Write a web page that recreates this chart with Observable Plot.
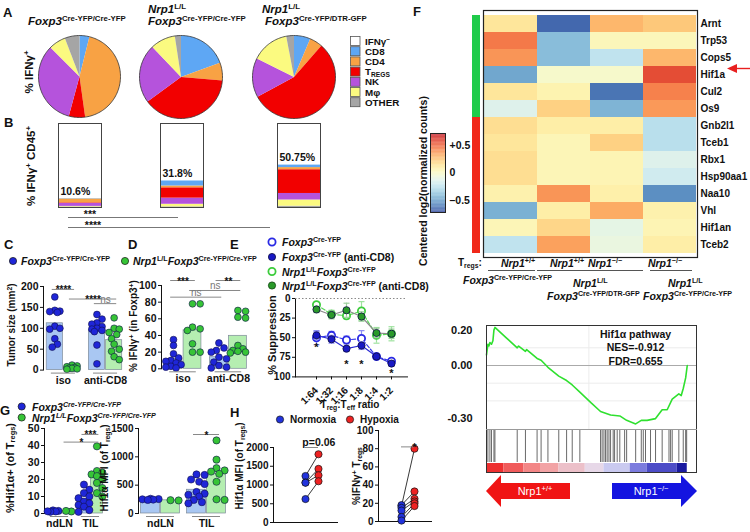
<!DOCTYPE html>
<html><head><meta charset="utf-8">
<script src="https://cdn.jsdelivr.net/npm/d3@7"></script>
<script src="https://cdn.jsdelivr.net/npm/@observablehq/plot@0.6"></script>
<style>
html,body{margin:0;padding:0;background:#fff}
#fig{position:relative;width:750px;height:532px;overflow:hidden;font-family:"Liberation Sans",Arial,sans-serif;color:#111}
.t{position:absolute;white-space:nowrap;line-height:1;font-weight:bold}
.t sup{font-size:0.68em;vertical-align:0.5em;line-height:0}
.t sub{font-size:0.68em;vertical-align:-0.25em;line-height:0}
</style></head><body><div id="fig"></div>
<script>
// ================= DATA =================
// Panel A/B: composition of IFNγ+ cells (order: CD8, CD4, TREGS, NK, Mφ, OTHER)
const cellTypes = ["IFNγ⁻", "CD8", "CD4", "TREGS", "NK", "Mφ", "OTHER"];
const cellColors = ["#ffffff", "#5ea7f4", "#f8a244", "#f20000", "#b553dc", "#fbfa80", "#a5a5a5"];
const pieFoxp3 = [3.9, 43.9, 6.4, 33.3, 6.7, 5.8];
const pieNrp1 = [19.4, 6.9, 38.6, 23.0, 9.7, 2.4];
const pieNrp1Dtr = [6.4, 5.0, 55.7, 15.3, 14.6, 3.0];
const ifngPositive = [10.6, 31.8, 50.75];

// Panel C: tumor size (mm2)
const tumorIsoWT = [175, 143, 141, 140, 138, 105, 100, 98, 75, 62, 55];
const tumorIsoKO = [12, 10, 8, 6, 5, 4, 3, 2];
const tumorCd8WT = [133, 122, 113, 110, 104, 100, 98, 95, 92, 60, 15];
const tumorCd8KO = [125, 100, 98, 90, 85, 75, 62, 50, 45, 32, 25];
const tumorSig = [
  {from: "iso|WT", to: "iso|KO", y: 193, label: "****"},
  {from: "iso|KO", to: "anti-CD8|KO", y: 170, label: "****"},
  {from: "anti-CD8|WT", to: "anti-CD8|KO", y: 159, label: "ns"}
];
// Panel D: % IFNγ+ in Foxp3+
const ifnIsoWT = [35, 28, 18, 13, 10, 9, 7, 5, 3, 2, 1];
const ifnIsoKO = [78, 78, 50, 48, 46, 30, 20, 20];
const ifnCd8WT = [31, 25, 22, 20, 14, 12, 8, 4, 2, 1];
const ifnCd8KO = [70, 69, 62, 61, 28, 24, 22, 21, 20, 19];
const ifnSig = [
  {from: "iso|WT", to: "iso|KO", y: 106, label: "***"},
  {from: "anti-CD8|WT", to: "anti-CD8|KO", y: 106, label: "**"},
  {from: "iso|KO", to: "anti-CD8|KO", y: 94, label: "ns"},
  {from: "iso|WT", to: "anti-CD8|WT", y: 86, label: "ns"}
];
// Panel E: % suppression
const ratios = ["1:64", "1:32", "1:16", "1:8", "1:4", "1:2"];
const supFoxp3 = [50, 47, 53, 51, 74, 80];      const errFoxp3 = [9, 5, 5, 10, 3, 2];
const supFoxp3Cd8 = [47, 52, 64, 60, 74, 83];   const errFoxp3Cd8 = [5, 5, 3, 5, 3, 3];
const supNrp1 = [8, 20, 22, 16, 47, 45];        const errNrp1 = [3, 5, 4, 12, 10, 9];
const supNrp1Cd8 = [14, 21, 15, 23, 44, 45];    const errNrp1Cd8 = [4, 5, 9, 6, 6, 6];
const starRatios = ["1:64", "1:16", "1:8", "1:2"];
const starLevels = [62, 84, 84, 95];
// Panel F: heatmap (centered log2 normalized counts)
const genes = ["Arnt", "Trp53", "Cops5", "Hif1a", "Cul2", "Os9", "Gnb2l1", "Tceb1", "Rbx1", "Hsp90aa1", "Naa10", "Vhl", "Hif1an", "Tceb2"];
const geneGroup = ["g", "g", "g", "g", "g", "g", "r", "r", "r", "r", "r", "r", "r", "r"];
const heatCols = ["WT Cre/Cre", "WT DTR", "KO DTR", "KO Cre/Cre"];
const heatWtCre = [0.12, 0.44, 0.37, -0.48, 0.12, -0.15, 0.15, 0.12, 0.15, 0.15, 0.06, -0.45, 0.03, -0.25];
const heatWtDtr = [-0.655, -0.41, -0.41, -0.03, 0.05, 0.2, 0.08, 0.03, 0.03, 0.03, 0.37, 0.08, 0.18, 0.34];
const heatKoDtr = [0.28, 0.02, -0.25, -0.03, -0.62, -0.44, 0.08, 0.2, 0.04, 0.04, 0.07, 0.31, -0.12, -0.1];
const heatKoCre = [0.23, 0.02, 0.28, 0.55, 0.42, 0.36, -0.27, -0.27, -0.15, -0.2, -0.55, 0.06, 0.04, 0.08];
const colorTicks = [-0.5, 0, 0.5];
// GSEA (rank out of 1000)
const esRank = [0, 7, 12, 17, 25, 32, 37, 42, 100, 153, 160, 194, 200, 252, 272, 306, 360, 399, 427, 465, 520, 568, 618, 664, 698, 743, 771, 800, 842, 875, 900, 925, 958, 970, 980, 992, 1000];
const esValue = [0.06, 0.12, 0.11, 0.13, 0.12, 0.14, 0.2, 0.215, 0.155, 0.10, 0.11, 0.08, 0.09, 0.04, 0.03, -0.01, -0.06, -0.085, -0.11, -0.15, -0.21, -0.26, -0.28, -0.285, -0.31, -0.33, -0.31, -0.31, -0.30, -0.25, -0.25, -0.19, -0.16, -0.17, -0.13, -0.07, 0.0];
const hitRanks = [7, 17, 25, 37, 42, 153, 194, 252, 272, 306, 360, 399, 427, 465, 568, 576, 585, 593, 601, 610, 618, 631, 638, 651, 664, 688, 698, 743, 771, 781, 792, 817, 842, 875, 909, 917, 925, 958, 980, 992, 997];
const rankSegStart = [0, 87, 186, 269, 361, 492, 585, 716, 800, 950];
const rankSegMetric = [1, 0.8, 0.6, 0.45, 0.25, 0.08, -0.1, -0.4, -0.65, -1];
const esTicks = [0.2, 0, -0.3];
// Panel G
const hifPctNdlnWT = [1.8, 1.5, 1.2, 1.0, 1.3];
const hifPctNdlnKO = [1.2, 1.5];
const hifPctTilWT = [17, 14, 12, 10, 9, 7, 6, 5, 4, 2, 1];
const hifPctTilKO = [39.5, 25, 24, 23, 22, 20, 18, 15, 12, 10];
const hifPctSig = [
  {from: "TIL|WT", to: "TIL|KO", y: 46.5, label: "***"},
  {from: "ndLN|KO", to: "TIL|KO", y: 42, label: "*"}
];
const hifMfiNdlnWT = [260, 255, 250, 245, 240];
const hifMfiNdlnKO = [235, 230];
const hifMfiTilWT = [690, 680, 600, 560, 520, 380, 350, 330, 300, 240, 200, 180];
const hifMfiTilKO = [1290, 950, 800, 760, 740, 700, 560, 250, 240];
const hifMfiSig = [{from: "TIL|WT", to: "TIL|KO", y: 1394, label: "*"}];
// Panel H
const mfiNormoxia = [1240, 1065, 1060, 625];
const mfiHypoxia = [1820, 1430, 1260, 1100];
const ifnNormoxia = [17, 18, 15, 12, 5, 1];
const ifnHypoxia = [80, 33, 25, 22, 20, 17];

// ================= HELPERS =================
const fig = document.getElementById("fig");
const FONT = '"Liberation Sans", Arial, sans-serif';
const BLUE = "#1f26d8", GREEN = "#36c436";
function mount(node, left, top) {
  node.style.position = "absolute"; node.style.left = left + "px"; node.style.top = top + "px";
  fig.appendChild(node); return node;
}
function plot(opts, left, top, fs = 10) {
  const svg = Plot.plot({...opts, style: {fontFamily: FONT, fontWeight: "bold", fontSize: fs + "px", color: "#111", background: "transparent", overflow: "visible"}});
  return mount(svg, left, top);
}
function txt(html, x, y, o = {}) {
  const d = document.createElement("div"); d.className = "t"; d.innerHTML = html;
  const a = o.anchor || "start";
  d.style.left = x + "px"; d.style.top = y + "px"; d.style.fontSize = (o.size || 10) + "px";
  if (o.color) d.style.color = o.color;
  if (o.weight) d.style.fontWeight = o.weight;
  const tx = o.rotate ? "-50%" : a === "start" ? "0" : a === "middle" ? "-50%" : "-100%";
  d.style.transform = `translate(${tx},-50%)` + (o.rotate ? ` rotate(${o.rotate}deg)` : "");
  fig.appendChild(d);
}
// simple deterministic beeswarm: horizontal pixel offsets for dots in one bar
function swarm(values, pxPerUnit, r, maxOff) {
  const placed = [], out = [];
  const order = d3.range(values.length).sort((a, b) => values[b] - values[a]);
  const minD = r * 1.7, step = r * 0.75;
  for (const i of order) {
    const y = values[i] * pxPerUnit; let best = 0, bestD = -1;
    for (let k = 0; ; k++) {
      const x = k === 0 ? 0 : (k % 2 ? 1 : -1) * Math.ceil(k / 2) * step;
      if (Math.abs(x) > maxOff) break;
      const d = placed.length ? d3.min(placed, p => Math.hypot(p.x - x, p.y - y)) : Infinity;
      if (d >= minD) { best = x; bestD = d; break; }
      if (d > bestD) { bestD = d; best = x; }
    }
    placed.push({x: best, y}); out[i] = best;
  }
  return out;
}

// ---------- Panel A: pies ----------
const circle = {type: "Polygon", coordinates: [d3.range(0, 361, 2).map(a => [Math.sin(a * Math.PI / 180), -Math.cos(a * Math.PI / 180)])]};
function pie(fr, cx, cy, r) {
  const tot = d3.sum(fr); let a = 0;
  const feats = fr.map((v, i) => {
    const a0 = a; a += v / tot * 2 * Math.PI;
    const n = Math.max(2, Math.ceil((a - a0) / 0.04)); const ring = [[0, 0]];
    for (let k = 0; k <= n; k++) { const t = a0 + (a - a0) * k / n; ring.push([Math.sin(t), -Math.cos(t)]); }
    ring.push([0, 0]);
    return {type: "Feature", properties: {color: cellColors[i + 1]}, geometry: {type: "Polygon", coordinates: [ring]}};
  });
  plot({width: 2 * r + 4, height: 2 * r + 4, margin: 2, color: {type: "identity"},
    projection: {type: "identity", domain: circle, inset: 0},
    marks: [Plot.geo(feats, {fill: d => d.properties.color}), Plot.geo([circle], {stroke: "#333", strokeWidth: 0.8, fill: "none"})]
  }, cx - r - 2, cy - r - 2);
}
pie(pieFoxp3, 79, 76, 41);
pie(pieNrp1, 180, 76, 41.5);
pie(pieNrp1Dtr, 293, 76, 41.5);

// ---------- Panel B: stacked bars ----------
function stackBar(fr, pct, boxL) {
  const tot = d3.sum(fr); const rows = [];
  for (let i = fr.length - 1; i >= 0; i--) rows.push({v: pct * fr[i] / tot, color: cellColors[i + 1]});
  rows.push({v: 100 - pct, color: cellColors[0]});
  plot({width: 45, height: 88, marginLeft: 1, marginRight: 1, marginTop: 3, marginBottom: 1,
    x: {domain: ["c"], padding: 0, axis: null}, y: {domain: [0, 100], axis: null}, color: {type: "identity"},
    marks: [
      Plot.barY(rows, {x: () => "c", y: "v", fill: "color"}),
      Plot.frame({stroke: "#444"}),
      Plot.text([pct], {y: d => d, text: d => d + "%", frameAnchor: "left", textAnchor: "start", dx: 2, dy: -7, fontSize: 10.5})
    ]}, boxL - 1, 120);
}
stackBar(pieFoxp3, ifngPositive[0], 58);
stackBar(pieNrp1, ifngPositive[1], 160);
stackBar(pieNrp1Dtr, ifngPositive[2], 277);

// ---------- bar + dot panels (C, D, G) ----------
function barDot(c) {
  const mL = 32, mR = 6, mT = 24, mB = 26;
  const fw = c.rightX - c.axisX, fh = c.yBot - c.yTop;
  const genos = ["WT", "KO"];
  const pos = (g, k) => c.groups.indexOf(g) * c.stride + genos.indexOf(k);
  const bars = c.bars.map(b => ({...b, x: pos(b.group, b.geno), mean: d3.mean(b.values)}));
  const pxY = fh / (c.ydom[1] - c.ydom[0]);
  const pts = bars.flatMap(b => { const offs = swarm(b.values, pxY, c.r, c.bw * 0.42); return b.values.map((v, i) => ({geno: b.geno, v, x: b.x + 0.5 + offs[i] / c.bw})); });
  const key = s => { const [g, k] = s.split("|"); return pos(g, k) + 0.5; };
  const sig = c.sig.map(s => ({...s, x1: key(s.from) - 0.15, x2: key(s.to) + 0.15}));
  const groupsD = c.groups.map((g, i) => ({g, x: i * c.stride + 1}));
  const fill = {WT: "#a9c7f2", KO: "#b5eeb1"}, dot = {WT: BLUE, KO: GREEN};
  plot({
    width: mL + fw + mR, height: mT + fh + mB, marginLeft: mL, marginRight: mR, marginTop: mT, marginBottom: mB,
    x: {domain: [(c.axisX - c.bx0) / c.bw, (c.rightX - c.bx0) / c.bw], axis: null},
    y: {domain: c.ydom, ticks: c.ticks, tickSize: 3, tickPadding: 2, line: true, label: null, tickFormat: d => String(d)},
    color: {type: "identity"},
    marks: [
      Plot.rect(bars, {x1: d => d.x + 0.03, x2: d => d.x + 0.97, y1: () => c.ydom[0], y2: "mean", fill: d => fill[d.geno], stroke: "#7d8a99", strokeWidth: 0.7}),
      Plot.dot(pts, {x: "x", y: "v", r: c.r, fill: d => dot[d.geno], stroke: "#10104a", strokeWidth: 0.6}),
      Plot.ruleY(sig, {y: "y", x1: "x1", x2: "x2", stroke: "#888"}),
      Plot.text(sig.filter(s => s.label !== "ns"), {x: d => (d.x1 + d.x2) / 2, y: "y", text: "label", lineAnchor: "bottom", dy: 4, fontSize: 10}),
      Plot.text(sig.filter(s => s.label === "ns"), {x: d => (d.x1 + d.x2) / 2, y: "y", text: "label", lineAnchor: "bottom", dy: -1, fill: "#777", fontWeight: "normal", fontSize: 10}),
      Plot.ruleY(groupsD, {y: () => c.ydom[0], x1: d => d.x - 0.7, x2: d => d.x + 0.7, dy: 3, stroke: "#888"}),
      Plot.text(groupsD, {x: "x", y: () => c.ydom[0], text: "g", lineAnchor: "top", dy: 6, fontSize: c.fs})
    ]}, c.axisX - mL, c.yTop - mT, c.tfs || c.fs);
}
barDot({axisX: 43, rightX: 123, yBot: 369.3, yTop: 285.7, ydom: [0, 200], ticks: [0, 50, 100, 150, 200],
  bx0: 45.7, bw: 17.2, stride: 2.45, groups: ["iso", "anti-CD8"], r: 3.4, fs: 10.5,
  bars: [{group: "iso", geno: "WT", values: tumorIsoWT}, {group: "iso", geno: "KO", values: tumorIsoKO},
         {group: "anti-CD8", geno: "WT", values: tumorCd8WT}, {group: "anti-CD8", geno: "KO", values: tumorCd8KO}],
  sig: tumorSig});
barDot({axisX: 161, rightX: 248, yBot: 368.3, yTop: 285, ydom: [0, 100], ticks: [0, 20, 40, 60, 80, 100],
  bx0: 163.5, bw: 19, stride: 2.39, groups: ["iso", "anti-CD8"], r: 3.4, fs: 10.5,
  bars: [{group: "iso", geno: "WT", values: ifnIsoWT}, {group: "iso", geno: "KO", values: ifnIsoKO},
         {group: "anti-CD8", geno: "WT", values: ifnCd8WT}, {group: "anti-CD8", geno: "KO", values: ifnCd8KO}],
  sig: ifnSig});
barDot({axisX: 44, rightX: 106, yBot: 513.3, yTop: 428.3, ydom: [0, 50], ticks: [0, 10, 20, 30, 40, 50],
  bx0: 46, bw: 13, stride: 2.38, groups: ["ndLN", "TIL"], r: 3.6, fs: 10.5,
  bars: [{group: "ndLN", geno: "WT", values: hifPctNdlnWT}, {group: "ndLN", geno: "KO", values: hifPctNdlnKO},
         {group: "TIL", geno: "WT", values: hifPctTilWT}, {group: "TIL", geno: "KO", values: hifPctTilKO}],
  sig: hifPctSig});
barDot({axisX: 138, rightX: 230, yBot: 513.3, yTop: 428.3, ydom: [0, 1500], ticks: [0, 500, 1000, 1500],
  bx0: 140, bw: 20, stride: 2.3, groups: ["ndLN", "TIL"], r: 3.6, fs: 10.5, tfs: 10,
  bars: [{group: "ndLN", geno: "WT", values: hifMfiNdlnWT}, {group: "ndLN", geno: "KO", values: hifMfiNdlnKO},
         {group: "TIL", geno: "WT", values: hifMfiTilWT}, {group: "TIL", geno: "KO", values: hifMfiTilKO}],
  sig: hifMfiSig});

// ---------- Panel E ----------
(function () {
  const L = 265, T = 290.3, mL = 30, mT = 8, mB = 26, mR = 10;
  const capSym = {draw(ctx, size) { const w = Math.sqrt(size) / 2; ctx.moveTo(-w, 0); ctx.lineTo(w, 0); }};
  const series = [
    {vals: supFoxp3, err: errFoxp3, open: true, color: "#2a2ae4", line: "#3a3aea", errc: "#8c8cf2", dash: "4,2"},
    {vals: supFoxp3Cd8, err: errFoxp3Cd8, open: false, color: "#1818c4", line: "#2a2ad4", errc: "#8c8cf2", dash: null},
    {vals: supNrp1, err: errNrp1, open: true, color: "#3ccc3c", line: "#5ad85a", errc: "#9ee29e", dash: "4,2"},
    {vals: supNrp1Cd8, err: errNrp1Cd8, open: false, color: "#2a9a2a", line: "#8a8a8a", errc: "#9ed09e", dash: null}
  ];
  const marks = [Plot.ruleY([0], {stroke: "#888", strokeDasharray: "1.5,2"})];
  for (const s of series) {
    const rows = ratios.map((r, i) => ({r, v: s.vals[i], e: s.err[i]}));
    marks.push(
      Plot.ruleX(rows, {x: "r", y1: d => d.v - d.e, y2: d => d.v + d.e, stroke: s.errc, strokeWidth: 1.2}),
      Plot.dot(rows, {x: "r", y: d => d.v - d.e, symbol: capSym, r: 3.4, stroke: s.errc, fill: "none", strokeWidth: 1.2}),
      Plot.dot(rows, {x: "r", y: d => d.v + d.e, symbol: capSym, r: 3.4, stroke: s.errc, fill: "none", strokeWidth: 1.2}),
      Plot.line(rows, {x: "r", y: "v", stroke: s.line, strokeWidth: 1.2, strokeDasharray: s.dash || undefined}),
      Plot.dot(rows, {x: "r", y: "v", r: 3.6, fill: s.open ? "white" : s.color, stroke: s.open ? s.color : "#0a0a40", strokeWidth: s.open ? 1.8 : 0.8})
    );
  }
  marks.push(Plot.text(starRatios.map((r, i) => ({r, y: starLevels[i]})), {x: "r", y: "y", text: () => "*", fontSize: 11}));
  plot({width: mL + 112 + mR, height: mT + 78.4 + mB, marginLeft: mL, marginRight: mR, marginTop: mT, marginBottom: mB,
    x: {type: "point", domain: ratios, range: [306 - L, 401.7 - L], tickRotate: -45, tickSize: 3, line: true, label: null},
    y: {domain: [0, 100], range: [mT, mT + 78.4], ticks: [0, 25, 50, 75, 100], tickSize: 3, tickPadding: 2, line: true, label: null},
    marks}, L, T, 10);
})();

// ---------- Panel H ----------
function paired(c) {
  const mL = 34, mR = 4, mT = 18, mB = 6;
  const L = c.axisX - mL, T = c.yTop - mT;
  const pairs = c.norm.map((n, i) => ({n, h: c.hyp[i]}));
  plot({width: mL + (c.rightX - c.axisX) + mR, height: mT + (c.yBot - c.yTop) + mB,
    marginLeft: mL, marginRight: mR, marginTop: mT, marginBottom: mB,
    x: {type: "point", domain: ["Normoxia", "Hypoxia"], range: [c.xN - L, c.xH - L], axis: null},
    y: {domain: c.ydom, ticks: c.ticks, tickSize: 3, tickPadding: 2, line: true, label: null, tickFormat: d => String(d)},
    marks: [
      Plot.ruleY([c.ydom[0]], {stroke: "#111"}),
      Plot.link(pairs, {x1: () => "Normoxia", y1: "n", x2: () => "Hypoxia", y2: "h", stroke: "#222", strokeWidth: 0.9}),
      Plot.dot(c.norm, {x: () => "Normoxia", y: d => d, r: 3.6, fill: "#2233dd", stroke: "#111", strokeWidth: 0.7}),
      Plot.dot(c.hyp, {x: () => "Hypoxia", y: d => d, r: 3.6, fill: "#ee2222", stroke: "#111", strokeWidth: 0.7}),
      Plot.ruleY([c.sigY], {x1: () => "Normoxia", x2: () => "Hypoxia", stroke: "#888"}),
      Plot.text([c.sigLabel], {x: () => "Normoxia", dx: (c.xH - c.xN) / 2, y: () => c.sigY, text: d => d, lineAnchor: "bottom", dy: c.sigLabel === "*" ? 4 : -2, fontSize: 10.5})
    ]}, L, T, 10);
}
paired({axisX: 273, rightX: 338, yBot: 521.7, yTop: 446.7, ydom: [0, 2000], ticks: [0, 500, 1000, 1500, 2000],
  xN: 298.3, xH: 325, norm: mfiNormoxia, hyp: mfiHypoxia, sigY: 2000, sigLabel: "p=0.06"});
paired({axisX: 378, rightX: 432, yBot: 521, yTop: 430, ydom: [0, 100], ticks: [0, 20, 40, 60, 80, 100],
  xN: 394, xH: 420, norm: ifnNormoxia, hyp: ifnHypoxia, sigY: 82, sigLabel: "*"});

// ---------- Panel F heatmap ----------
const heatCols4 = [heatWtCre, heatWtDtr, heatKoDtr, heatKoCre];
const heat = heatCols.flatMap((c, j) => genes.map((g, i) => ({col: c, gene: g, v: heatCols4[j][i]})));
const heatColor = {type: "linear", scheme: "RdYlBu", reverse: true, domain: [-0.78, 0.78], clamp: true};
plot({width: 214 + 53, height: 247, marginLeft: 0, marginRight: 53, marginTop: 0, marginBottom: 0,
  x: {domain: heatCols, padding: 0, axis: null},
  y: {domain: genes, padding: 0, axis: "right", tickSize: 0, tickPadding: 3, label: null},
  color: heatColor,
  marks: [Plot.cell(heat, {x: "col", y: "gene", fill: "v", inset: 0}), Plot.frame({stroke: "#222", strokeWidth: 1.2})]
}, 483, 10, 10);
plot({width: 8, height: 247, margin: 0, y: {domain: genes, padding: 0, axis: null}, color: {type: "identity"},
  marks: [Plot.cell(genes.map((g, i) => ({g, c: geneGroup[i] === "g" ? "#1fcb4a" : "#f0281a"})), {y: "g", fill: "c", inset: 0})]
}, 472, 10);
plot({width: 55, height: 85, marginLeft: 0, marginRight: 40, marginTop: 3, marginBottom: 3,
  x: {domain: [0, 1], axis: null},
  y: {domain: [-0.71, 0.71], axis: "right", ticks: colorTicks, tickFormat: v => v > 0 ? "+0.5" : v < 0 ? "–0.5" : "0", tickSize: 0, tickPadding: 4, label: null},
  color: heatColor,
  marks: [Plot.rect(d3.range(-0.71, 0.71, 0.0142).map(v => ({v})), {x1: () => 0, x2: () => 1, y1: "v", y2: d => d.v + 0.0145, fill: "v"}), Plot.frame({stroke: "#222"})]
}, 430, 130, 10.5);

// ---------- GSEA ----------
const curve = esRank.map((r, i) => ({r, es: esValue[i]}));
plot({width: 40 + 211, height: 104, marginLeft: 40, marginRight: 0, marginTop: 0, marginBottom: 0,
  x: {domain: [0, 1051], axis: null},
  y: {domain: [-0.3616, 0.226], ticks: esTicks, tickFormat: v => v.toFixed(2), tickSize: 0, tickPadding: 14, label: null},
  marks: [
    Plot.ruleY([0.1, -0.1, -0.2], {stroke: "#ececec"}),
    Plot.ruleX([510], {stroke: "#ececec"}),
    Plot.ruleY([0], {stroke: "#aaa"}),
    Plot.line(curve, {x: "r", y: "es", stroke: "#2fe02f", strokeWidth: 1.6}),
    Plot.text(["Hif1α pathway\nNES=-0.912\nFDR=0.655"], {frameAnchor: "top-right", dx: -62, dy: 3, lineAnchor: "top", textAnchor: "middle", lineHeight: 1.27, fontSize: 10.5})
  ]}, 446, 325, 11);
plot({width: 211, height: 32, margin: 0, x: {domain: [0, 1051], axis: null},
  marks: [Plot.ruleX(hitRanks, {stroke: "#444", strokeWidth: 0.8})]}, 486, 430);
plot({width: 211, height: 10, margin: 0, x: {domain: [0, 1051], axis: null},
  color: {type: "linear", domain: [-1, -0.5, 0, 0.5, 1], range: ["#1a1aa0", "#6262d8", "#e4e4f6", "#f49c9c", "#ee3030"]},
  marks: [Plot.rect(rankSegStart.map((s, i) => ({s, e: rankSegStart[i + 1] ?? 1000, m: rankSegMetric[i]})), {x1: "s", x2: "e", fill: "m"})]}, 486, 463);

// ================= ANNOTATIONS (legends, lines, arrows) =================
const ann = [];
cellTypes.forEach((t, i) => ann.push(`<rect x="350.5" y="${36.5 + 10.2 * i}" width="9.5" height="9" fill="${cellColors[i]}" stroke="#555" stroke-width="0.8"/>`));
ann.push(`<line x1="68" y1="217.5" x2="178" y2="217.5" stroke="#777"/><line x1="68" y1="227.5" x2="270" y2="227.5" stroke="#777"/>`);
const dotS = (x, y, f) => `<circle cx="${x}" cy="${y}" r="3.6" fill="${f}" stroke="#111" stroke-width="0.7"/>`;
ann.push(dotS(13, 261, BLUE), dotS(125, 261, GREEN), dotS(21.7, 406.5, BLUE), dotS(21.7, 417.5, GREEN), dotS(280, 419.5, "#2233dd"), dotS(350, 419.5, "#ee2222"));
ann.push(`<circle cx="272" cy="242" r="3.6" fill="white" stroke="#2a2ae4" stroke-width="1.8"/>`,
  `<circle cx="272" cy="257" r="3.6" fill="#1818c4" stroke="#0a0a40" stroke-width="0.8"/>`,
  `<circle cx="272" cy="271.5" r="3.6" fill="white" stroke="#3ccc3c" stroke-width="1.8"/>`,
  `<circle cx="272" cy="285.5" r="3.6" fill="#2a9a2a" stroke="#0a400a" stroke-width="0.8"/>`);
ann.push(`<line x1="488" y1="270.5" x2="535" y2="270.5" stroke="#555"/><line x1="537" y1="270.5" x2="643" y2="270.5" stroke="#555"/><line x1="650" y1="270.5" x2="692" y2="270.5" stroke="#555"/>`);
ann.push(`<line x1="735" y1="68.5" x2="750" y2="68.5" stroke="#e82020" stroke-width="1.4"/><polygon points="727,68.5 737,64 737,73" fill="#e82020"/>`);
ann.push(`<rect x="486.5" y="325.5" width="210" height="147" fill="none" stroke="#333"/><line x1="486" y1="429.5" x2="697" y2="429.5" stroke="#999"/>`);
ann.push(`<polygon points="486,491 501,475 501,483 570,483 570,499 501,499 501,507" fill="#f01414"/>`,
  `<polygon points="612,483 681,483 681,475 697,491 681,507 681,499 612,499" fill="#1414e0"/>`);
fig.insertAdjacentHTML("beforeend", `<svg width="750" height="532" style="position:absolute;left:0;top:0;pointer-events:none">${ann.join("")}</svg>`);

// ================= TEXT =================
const F3 = s => `<i>Foxp3</i><sup>${s}</sup>`;
const N1 = s => `<i>Nrp1</i><sup>${s}</sup>`;
[["A", 3, 12], ["B", 4, 122], ["C", 4, 244], ["D", 128, 244], ["E", 230, 244], ["F", 413, 11], ["G", 0, 410], ["H", 230, 412]]
  .forEach(([l, x, y]) => txt(l, x, y, {size: 13}));
txt(F3("Cre-YFP/Cre-YFP"), 28, 22, {size: 11.5});
txt(N1("L/L"), 148, 10, {size: 11.5});
txt(F3("Cre-YFP/Cre-YFP"), 148, 21.5, {size: 11.5});
txt(N1("L/L"), 262, 10, {size: 11.5});
txt(F3("Cre-YFP/DTR-GFP"), 265, 21.5, {size: 11.5});
["IFNγ<sup>−</sup>", "CD8", "CD4", "T<sub>REGS</sub>", "NK", "Mφ", "OTHER"].forEach((l, i) => txt(l, 365, 41.5 + 10.2 * i, {size: 9.8}));
txt("% IFNγ<sup>+</sup>", 30, 72, {size: 11.5, rotate: -90});
txt("% IFNγ<sup>+</sup> CD45<sup>+</sup>", 32, 166, {size: 11.5, rotate: -90});
txt("***", 90, 214, {size: 10.5, anchor: "middle"});
txt("****", 93, 225, {size: 10.5, anchor: "middle"});
txt(F3("Cre-YFP/Cre-YFP"), 21, 261, {size: 10.5});
txt(N1("L/L") + F3("Cre-YFP/Cre-YFP"), 133, 261, {size: 10.5});
txt("Tumor size (mm<sup>2</sup>)", 12, 325, {size: 10, rotate: -90});
txt("% IFNγ<sup>+</sup> (in Foxp3<sup>+</sup>)", 134, 326, {size: 10, rotate: -90});
txt(F3("Cre-YFP"), 282, 242, {size: 10.5});
txt(F3("Cre-YFP") + " (anti-CD8)", 282, 257, {size: 10.5});
txt(N1("L/L") + F3("Cre-YFP"), 282, 271.5, {size: 10.5});
txt(N1("L/L") + F3("Cre-YFP") + " (anti-CD8)", 282, 285.5, {size: 10.5});
txt("% Suppression", 272, 335, {size: 11, rotate: -90});
txt("T<sub>reg</sub>:T<sub>eff</sub> ratio", 350, 404.5, {size: 10, anchor: "middle"});
txt("<i>Foxp3<sup>Cre-YFP/Cre-YFP</sup></i>", 32, 406.5, {size: 10.5});
txt("<i>Nrp1<sup>L/L</sup>Foxp3<sup>Cre-YFP/Cre-YFP</sup></i>", 32, 417.5, {size: 10.5});
txt("%Hif1α+ (of T<sub>regs</sub>)", 10, 468, {size: 11, rotate: -90});
txt("Hif1α MFI (of T<sub>regs</sub>)", 105, 468, {size: 10, rotate: -90});
txt("Normoxia", 290, 419.5, {size: 10});
txt("Hypoxia", 360, 419.5, {size: 10});
txt("Hif1α  MFI (of T<sub>regs</sub>)", 240, 466, {size: 10, rotate: -90});
txt("%IFNγ<sup>+</sup> T<sub>regs</sub>", 357, 476, {size: 10, rotate: -90});
txt("Centered log2(normalized counts)", 423, 181, {size: 10.5, rotate: -90});
txt("T<sub>regs</sub>:", 458, 263, {size: 10});
txt(N1("+/+"), 518, 263, {size: 10.5, anchor: "middle"});
txt(N1("+/+"), 567, 263, {size: 10.5, anchor: "middle"});
txt(N1("−/−"), 605, 263, {size: 10.5, anchor: "middle"});
txt(N1("−/−"), 665, 263, {size: 10.5, anchor: "middle"});
txt(F3("Cre-YFP/Cre-YFP"), 463, 280, {size: 10.5});
txt(N1("L/L"), 573, 282.5, {size: 10.5});
txt(F3("Cre-YFP/DTR-GFP"), 547, 296, {size: 10.5});
txt(N1("L/L"), 668, 282.5, {size: 10.5});
txt(F3("Cre-YFP/Cre-YFP"), 643, 296, {size: 10.5});
txt("Nrp1<sup>+/+</sup>", 535, 491, {size: 11, anchor: "middle", color: "#fff", weight: "normal"});
txt("Nrp1<sup>−/−</sup>", 651, 491, {size: 11, anchor: "middle", color: "#fff", weight: "normal"});
</script></body></html>
